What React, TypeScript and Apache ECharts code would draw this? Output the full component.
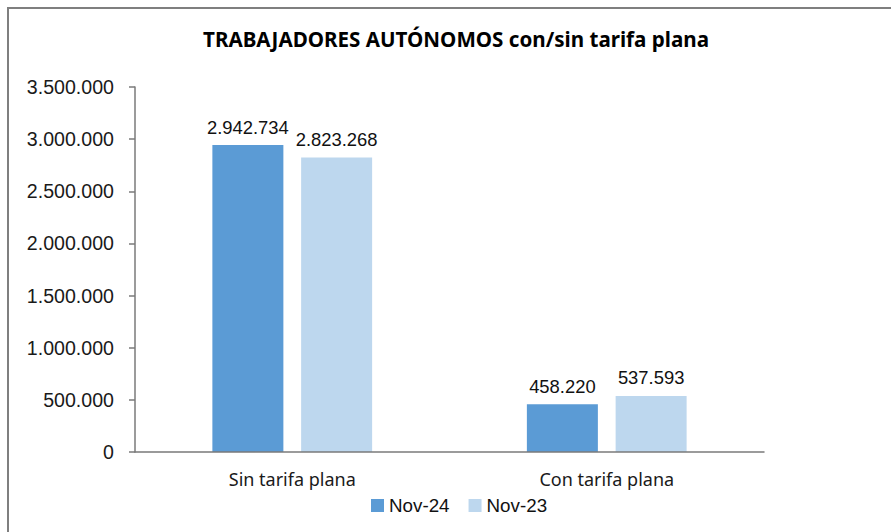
import React, { useEffect, useRef } from "react";
import * as echarts from "echarts";

const titleText = "TRABAJADORES AUTÓNOMOS con/sin tarifa plana";
const categories = ["Sin tarifa plana", "Con tarifa plana"];
const seriesNames = ["Nov-24", "Nov-23"];
const nov24 = [2942734, 458220];
const nov23 = [2823268, 537593];
const colors = ["#5B9BD5", "#BDD7EE"];

const fmt = (v: number) =>
  String(Math.round(v)).replace(/\B(?=(\d{3})+(?!\d))/g, ".");

export default function App() {
  const ref = useRef<HTMLDivElement>(null);
  useEffect(() => {
    if (!ref.current) return;
    const chart = echarts.init(ref.current, null, { renderer: "svg" });
    const labelStyle = {
      show: true,
      position: "top" as const,
      distance: 9,
      formatter: (p: any) => fmt(p.value),
      fontFamily: "Liberation Sans",
      fontSize: 18.4,
      color: "#111",
    };
    chart.setOption({
      animation: false,
      backgroundColor: "#fff",
      graphic: [
        {
          type: "rect",
          shape: { x: 8, y: 8, width: 1000, height: 1000 },
          style: { fill: "none", stroke: "#7f7f7f", lineWidth: 2 },
          silent: true,
        },
        {
          type: "text",
          x: 456,
          y: 39,
          style: {
            text: titleText,
            fontFamily: "Noto Sans",
            fontWeight: "bold",
            fontSize: 20.6,
            fill: "#000",
            textAlign: "center",
            textVerticalAlign: "middle",
          },
        },
      ],
      legend: {
        data: seriesNames,
        left: 371,
        top: 496,
        itemWidth: 13,
        itemHeight: 13,
        itemGap: 19,
        icon: "rect",
        textStyle: {
          fontFamily: "Liberation Sans",
          fontSize: 18.8,
          color: "#111",
          padding: [0, 0, 0, 0],
        },
        padding: 0,
      },
      grid: { left: 135, right: 127, top: 87, bottom: 80 },
      xAxis: {
        type: "category",
        data: categories,
        z: 5,
        axisLine: { lineStyle: { color: "#7a7a7a", width: 1.5 } },
        axisTick: { show: false },
        axisLabel: {
          margin: 18,
          fontFamily: "Noto Sans",
          fontSize: 18,
          color: "#1a1a1a",
        },
      },
      yAxis: {
        type: "value",
        min: 0,
        max: 3500000,
        interval: 500000,
        axisLine: { show: true, lineStyle: { color: "#7a7a7a", width: 1.5 } },
        axisTick: { show: true, length: 6, lineStyle: { color: "#7a7a7a", width: 1.5 } },
        splitLine: { show: false },
        axisLabel: {
          margin: 21,
          formatter: (v: number) => fmt(v),
          fontFamily: "Liberation Sans",
          fontSize: 19.6,
          color: "#1a1a1a",
        },
      },
      series: [
        {
          name: seriesNames[0],
          type: "bar",
          data: nov24,
          barWidth: 71,
          barGap: "25%",
          itemStyle: { color: colors[0] },
          label: labelStyle,
        },
        {
          name: seriesNames[1],
          type: "bar",
          data: nov23,
          barWidth: 71,
          barGap: "25%",
          itemStyle: { color: colors[1] },
          label: labelStyle,
        },
      ],
    });
    return () => chart.dispose();
  }, []);
  return (
    <div
      ref={ref}
      style={{ position: "absolute", left: 0, top: 0, width: 891, height: 532 }}
    />
  );
}
